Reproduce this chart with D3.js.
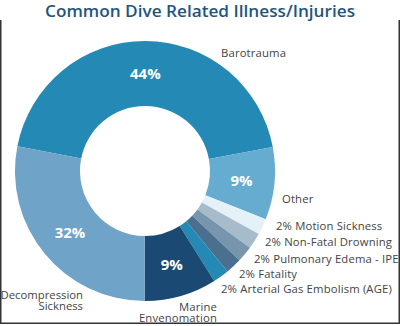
<!DOCTYPE html>
<html><head><meta charset="utf-8">
<script src="https://cdn.jsdelivr.net/npm/d3@7"></script>
<style>
html,body{margin:0;padding:0;background:#fff;}
svg{display:block;}
text{font-family:"Open Sans",sans-serif;}
</style></head>
<body>
<svg id="chart" width="400" height="326"></svg>
<script>
const categories = ["Barotrauma","Other","Motion Sickness","Non-Fatal Drowning","Pulmonary Edema - IPE","Fatality","Arterial Gas Embolism (AGE)","Marine Envenomation","Decompression Sickness"];
const values = [44, 9, 2, 2, 2, 2, 2, 9, 28];
const percentLabels = ["44%","9%","2%","2%","2%","2%","2%","9%","32%"];
const colors = ["#2589b5","#66acd0","#e4f1f7","#a7bccb","#7796ad","#4b6f8f","#2589b5","#1a4a73","#6fa3c7"];

const svg = d3.select("#chart");
const cx = 145, cy = 171, rOuter = 130, rInner = 65;

// frame
svg.append("path")
  .attr("d", "M0.75,20 V323.25 H399.25 V20")
  .attr("fill","none").attr("stroke","#333").attr("stroke-width",1.5);

svg.append("text")
  .attr("x", 200).attr("y", 17)
  .attr("text-anchor","middle")
  .attr("font-size", 16).attr("font-weight", 600)
  .attr("fill", "#1f5582")
  .attr("textLength", 310).attr("lengthAdjust","spacingAndGlyphs")
  .text("Common Dive Related Illness/Injuries");

const start = -79 * Math.PI / 180;
const pie = d3.pie().sort(null).value(d => d.v).startAngle(start).endAngle(start + 2*Math.PI);
const data = categories.map((c,i) => ({c, v: values[i], p: percentLabels[i], col: colors[i]}));
const arcs = pie(data);
const arc = d3.arc().innerRadius(rInner).outerRadius(rOuter);
const g = svg.append("g").attr("transform", `translate(${cx},${cy})`);
g.selectAll("path.slice").data(arcs).enter().append("path")
  .attr("class","slice").attr("d", arc).attr("fill", d => d.data.col);

// in-slice percentages for large slices
const labelArc = d3.arc().innerRadius(97).outerRadius(97);
g.selectAll("text.pct").data(arcs.filter(d => d.data.v >= 5)).enter().append("text")
  .attr("class","pct")
  .attr("transform", d => `translate(${labelArc.centroid(d)})`)
  .attr("text-anchor","middle").attr("dy","0.36em")
  .attr("font-size", 15).attr("font-weight", 700).attr("fill","#fff")
  .text(d => d.data.p);

// outer labels
const FS = 11.3;
const txt = (x, y, lines, anchor, ls) => {
  const t = svg.append("text").attr("x", x).attr("y", y)
    .attr("text-anchor", anchor || "start").attr("font-size", FS)
    .attr("letter-spacing", ls === undefined ? 0.15 : ls).attr("fill", "#444");
  lines.forEach((s, i) => t.append("tspan").attr("x", x).attr("dy", i === 0 ? 0 : 11.5).text(s));
};
txt(221, 57, [categories[0]]);
txt(282, 203, [categories[1]]);
const smallX = [276, 265, 254, 239, 221];
const smallY = [230, 246, 263, 278, 293];
for (let i = 0; i < 5; i++) txt(smallX[i], smallY[i], [percentLabels[2+i] + " " + categories[2+i]]);
txt(217, 310.5, categories[7].split(" "), "end");
txt(83, 298.5, categories[8].split(" "), "end", 0);
</script>
</body></html>
